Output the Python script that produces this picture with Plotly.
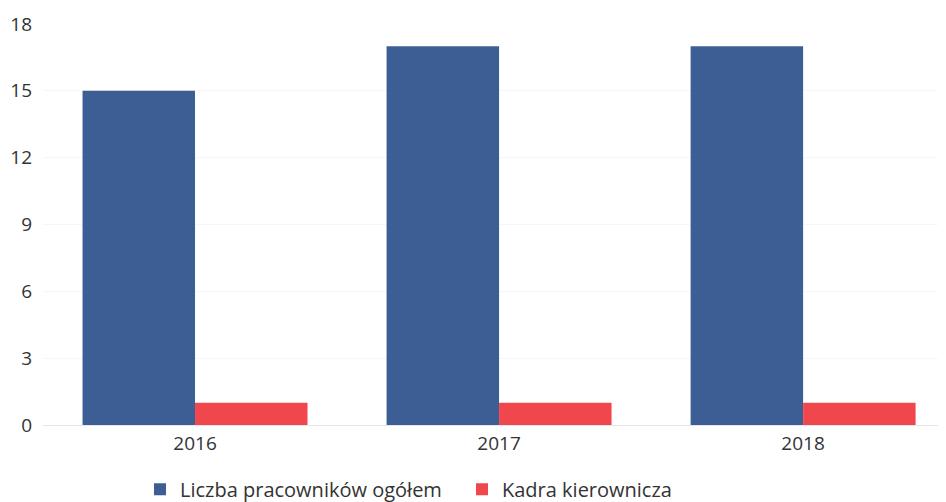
import plotly.graph_objects as go

years = ["2016", "2017", "2018"]
total_staff = [15, 17, 17]
management = [1, 1, 1]

series_names = ["Liczba pracowników ogółem", "Kadra kierownicza"]
series_colours = ["#3d5e95", "#f0474d"]

fig = go.Figure()
for name, values, colour in zip(series_names, [total_staff, management], series_colours):
    fig.add_trace(
        go.Bar(
            x=years,
            y=values,
            name=name,
            marker=dict(color=colour, line=dict(width=0)),
        )
    )

# page body keeps its 8px margin, so the figure is sized to the visible area
fig.update_layout(
    width=938,
    height=494,
    barmode="group",
    bargap=0.26,
    bargroupgap=0,
    plot_bgcolor="white",
    paper_bgcolor="white",
    font=dict(family="Open Sans", size=19, color="#333333"),
    margin=dict(l=35, r=0, t=16, b=77, autoexpand=False),
    xaxis=dict(
        type="category",
        range=[-0.5, 2.47],
        automargin=False,
        showgrid=False,
        showline=True,
        linecolor="#e6e6e6",
        linewidth=1,
        ticks="",
        ticklabelstandoff=1,
    ),
    yaxis=dict(
        range=[0, 18],
        tickmode="linear",
        dtick=3,
        automargin=False,
        showgrid=True,
        gridcolor="#f7f7f7",
        zeroline=False,
        ticks="",
        ticklabelstandoff=10,
    ),
    legend=dict(
        orientation="h",
        x=0.464,
        xanchor="center",
        y=-0.16,
        yanchor="middle",
        font=dict(size=20),
        entrywidth=277,
        entrywidthmode="pixels",
        traceorder="normal",
    ),
)

fig.write_html("out.html")
